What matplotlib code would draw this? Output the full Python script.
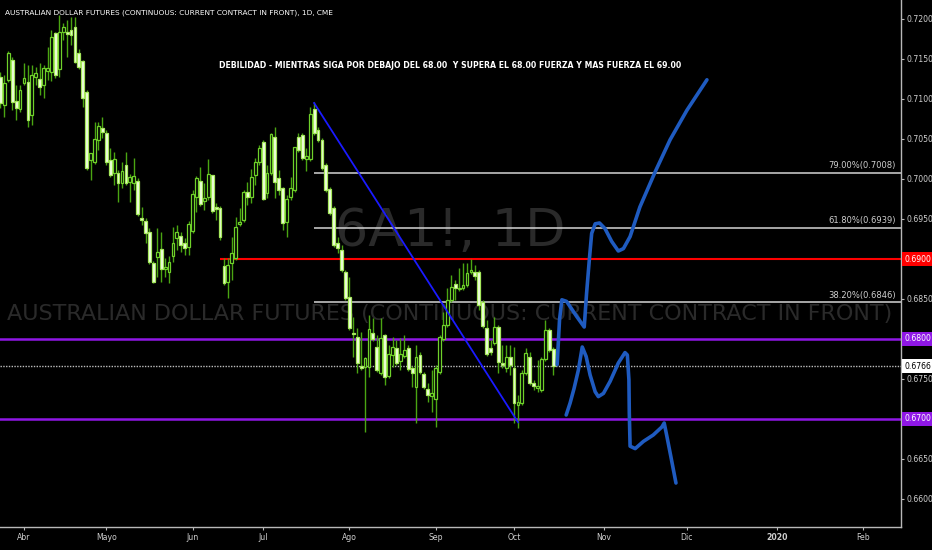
import numpy as np
import matplotlib
matplotlib.use('Agg')
import matplotlib.pyplot as plt
import matplotlib.transforms as mtransforms
from matplotlib import font_manager

# look for a narrow face (TradingView text is condensed), else Roboto
narrow = None
for f in font_manager.fontManager.ttflist:
    if ('Narrow' in f.name or 'Condensed' in f.name or f.stretch in ('condensed', 'semi-condensed')) \
            and f.weight in (400, 'normal', 'regular'):
        narrow = f.name
        break
fam = [narrow, 'Roboto', 'DejaVu Sans'] if narrow else ['Roboto', 'DejaVu Sans']
plt.rcParams['font.family'] = fam

# daily candles, 6A1! (late March .. mid October 2019), bar 0 = 1 Apr
first_bar = -6
opens = [0.7128, 0.7093, 0.7124, 0.7149, 0.7098, 0.7088, 0.7120, 0.7121, 0.7080, 0.7128,
         0.7125, 0.7118, 0.7135, 0.7134, 0.7183, 0.7138, 0.7184, 0.7184, 0.7186, 0.7190,
         0.7158, 0.7148, 0.7109, 0.7024, 0.7021, 0.7049, 0.7064, 0.7058, 0.7024, 0.7008,
         0.7008, 0.6995, 0.7018, 0.6996, 0.6995, 0.6998, 0.6951, 0.6948, 0.6934, 0.6895,
         0.6903, 0.6913, 0.6888, 0.6884, 0.6904, 0.6926, 0.6929, 0.6920, 0.6915, 0.6935,
         0.6978, 0.6998, 0.6973, 0.6978, 0.7005, 0.6965, 0.6964, 0.6891, 0.6871, 0.6895,
         0.6901, 0.6944, 0.6949, 0.6984, 0.6978, 0.7005, 0.7021, 0.7046, 0.6983, 0.7008,
         0.7053, 0.7001, 0.6989, 0.6946, 0.6978, 0.6986, 0.7053, 0.7055, 0.7025, 0.7025,
         0.7088, 0.7061, 0.7049, 0.7018, 0.6988, 0.6964, 0.6920, 0.6911, 0.6884, 0.6853,
         0.6808, 0.6803, 0.6766, 0.6765, 0.6765, 0.6808, 0.6790, 0.6758, 0.6805, 0.6754,
         0.6780, 0.6789, 0.6773, 0.6779, 0.6789, 0.6764, 0.6740, 0.6780, 0.6756, 0.6738,
         0.6729, 0.6725, 0.6759, 0.6800, 0.6818, 0.6849, 0.6869, 0.6863, 0.6864, 0.6868,
         0.6884, 0.6884, 0.6884, 0.6846, 0.6814, 0.6789, 0.6795, 0.6815, 0.6770, 0.6764,
         0.6778, 0.6764, 0.6718, 0.6720, 0.6758, 0.6778, 0.6745, 0.6739, 0.6736, 0.6775,
         0.6811, 0.6788]
highs = [0.7134, 0.7130, 0.7160, 0.7153, 0.7118, 0.7118, 0.7145, 0.7143, 0.7143, 0.7140,
         0.7145, 0.7143, 0.7165, 0.7186, 0.7184, 0.7205, 0.7195, 0.7199, 0.7203, 0.7203,
         0.7163, 0.7149, 0.7111, 0.7033, 0.7071, 0.7071, 0.7078, 0.7061, 0.7039, 0.7034,
         0.7011, 0.7021, 0.7034, 0.7006, 0.7026, 0.7001, 0.6965, 0.6951, 0.6939, 0.6898,
         0.6939, 0.6934, 0.6901, 0.6904, 0.6940, 0.6943, 0.6934, 0.6926, 0.6948, 0.6986,
         0.7004, 0.7015, 0.6995, 0.7025, 0.7005, 0.6970, 0.6966, 0.6901, 0.6901, 0.6928,
         0.6953, 0.6964, 0.6986, 0.6996, 0.7013, 0.7026, 0.7043, 0.7049, 0.7018, 0.7058,
         0.7065, 0.7011, 0.6990, 0.6980, 0.7003, 0.7040, 0.7058, 0.7058, 0.7039, 0.7090,
         0.7096, 0.7065, 0.7051, 0.7020, 0.6990, 0.6966, 0.6928, 0.6918, 0.6886, 0.6878,
         0.6828, 0.6814, 0.6809, 0.6778, 0.6830, 0.6826, 0.6805, 0.6826, 0.6806, 0.6793,
         0.6803, 0.6799, 0.6801, 0.6805, 0.6793, 0.6766, 0.6793, 0.6784, 0.6759, 0.6745,
         0.6761, 0.6768, 0.6805, 0.6834, 0.6864, 0.6880, 0.6874, 0.6889, 0.6895, 0.6895,
         0.6900, 0.6893, 0.6886, 0.6849, 0.6824, 0.6799, 0.6828, 0.6818, 0.6793, 0.6793,
         0.6793, 0.6790, 0.6730, 0.6761, 0.6789, 0.6784, 0.6749, 0.6774, 0.6778, 0.6824,
         0.6814, 0.6790]
lows = [0.7089, 0.7078, 0.7121, 0.7086, 0.7074, 0.7084, 0.7118, 0.7065, 0.7068, 0.7118,
        0.7105, 0.7101, 0.7124, 0.7123, 0.7126, 0.7128, 0.7174, 0.7153, 0.7168, 0.7145,
        0.7138, 0.7090, 0.7011, 0.6999, 0.7019, 0.7036, 0.7051, 0.7018, 0.7003, 0.6993,
        0.6971, 0.6989, 0.6993, 0.6971, 0.6986, 0.6954, 0.6943, 0.6920, 0.6894, 0.6870,
        0.6878, 0.6871, 0.6878, 0.6870, 0.6896, 0.6911, 0.6909, 0.6905, 0.6905, 0.6933,
        0.6959, 0.6966, 0.6961, 0.6974, 0.6958, 0.6949, 0.6924, 0.6868, 0.6851, 0.6874,
        0.6899, 0.6941, 0.6946, 0.6968, 0.6970, 0.6993, 0.7018, 0.6974, 0.6976, 0.7005,
        0.6976, 0.6980, 0.6936, 0.6928, 0.6974, 0.6984, 0.7034, 0.7024, 0.7010, 0.7023,
        0.7055, 0.7046, 0.7011, 0.6984, 0.6955, 0.6915, 0.6908, 0.6884, 0.6849, 0.6811,
        0.6778, 0.6758, 0.6761, 0.6684, 0.6753, 0.6798, 0.6759, 0.6755, 0.6743, 0.6751,
        0.6765, 0.6768, 0.6761, 0.6776, 0.6760, 0.6740, 0.6695, 0.6756, 0.6738, 0.6721,
        0.6709, 0.6690, 0.6756, 0.6798, 0.6815, 0.6846, 0.6849, 0.6860, 0.6861, 0.6865,
        0.6881, 0.6874, 0.6836, 0.6814, 0.6779, 0.6780, 0.6793, 0.6758, 0.6764, 0.6759,
        0.6755, 0.6695, 0.6689, 0.6718, 0.6755, 0.6743, 0.6736, 0.6734, 0.6734, 0.6773,
        0.6784, 0.6755]
closes = [0.7095, 0.7120, 0.7158, 0.7096, 0.7089, 0.7111, 0.7126, 0.7074, 0.7130, 0.7133,
          0.7115, 0.7139, 0.7139, 0.7178, 0.7130, 0.7184, 0.7190, 0.7181, 0.7180, 0.7146,
          0.7140, 0.7101, 0.7014, 0.7033, 0.7050, 0.7066, 0.7059, 0.7021, 0.7005, 0.7025,
          0.6995, 0.7010, 0.6995, 0.7003, 0.7004, 0.6956, 0.6949, 0.6933, 0.6896, 0.6871,
          0.6909, 0.6888, 0.6890, 0.6896, 0.6920, 0.6934, 0.6918, 0.6914, 0.6944, 0.6981,
          0.7001, 0.6969, 0.6976, 0.7006, 0.6960, 0.6963, 0.6928, 0.6870, 0.6893, 0.6908,
          0.6940, 0.6946, 0.6984, 0.6978, 0.7003, 0.7021, 0.7039, 0.6975, 0.7008, 0.7056,
          0.6996, 0.6986, 0.6945, 0.6975, 0.6989, 0.7040, 0.7036, 0.7026, 0.7029, 0.7081,
          0.7058, 0.7049, 0.7014, 0.6986, 0.6958, 0.6918, 0.6914, 0.6886, 0.6851, 0.6814,
          0.6806, 0.6770, 0.6764, 0.6776, 0.6813, 0.6800, 0.6761, 0.6801, 0.6753, 0.6781,
          0.6790, 0.6770, 0.6781, 0.6786, 0.6763, 0.6758, 0.6778, 0.6759, 0.6740, 0.6730,
          0.6733, 0.6764, 0.6803, 0.6818, 0.6849, 0.6865, 0.6864, 0.6864, 0.6868, 0.6883,
          0.6886, 0.6879, 0.6843, 0.6816, 0.6781, 0.6784, 0.6815, 0.6771, 0.6768, 0.6778,
          0.6768, 0.6720, 0.6721, 0.6758, 0.6783, 0.6745, 0.6741, 0.6741, 0.6775, 0.6811,
          0.6786, 0.6766]

month_labels = ['Abr', 'Mayo', 'Jun', 'Jul', 'Ago', 'Sep', 'Oct', 'Nov', 'Dic', '2020', 'Feb']
month_bars = [0, 21, 43, 61, 83, 105, 125, 148, 169, 192, 214]

price_ticks = np.arange(0.6600, 0.72001, 0.005)

# drawings on the chart
fib_levels = [0.7008, 0.6939, 0.6846]
fib_labels = ['79.00%(0.7008)', '61.80%(0.6939)', '38.20%(0.6846)']
fib_start = 74
red_level = 0.6900
red_start = 50
purple_levels = [0.6800, 0.6700]
last_price = 0.6766

trend_bars = [74, 126]
trend_prices = [0.7095, 0.6696]

up_path_bars = [136.0, 136.6, 137.2, 138.4, 141.0, 142.9, 143.5, 144.2, 144.8, 145.7, 146.8,
                148.2, 149.9, 151.6, 152.9, 154.6, 157.1, 161.0, 164.8, 169.1, 174.2]
up_path_prices = [0.6768, 0.6824, 0.6849, 0.6847, 0.6828, 0.6815, 0.6857, 0.6899, 0.6932, 0.6944,
                  0.6945, 0.6938, 0.6922, 0.6910, 0.6913, 0.6928, 0.6965, 0.7009, 0.7049, 0.7086, 0.7124]
down_path_bars = [138.3, 139.3, 140.3, 141.4, 142.4, 143.4, 144.4, 145.7, 146.5, 147.8, 149.5,
                  151.6, 153.3, 153.9, 154.3, 154.4, 154.6, 155.9, 158.0, 160.5, 162.7, 163.3,
                  164.0, 165.0, 166.3]
down_path_prices = [0.6705, 0.6720, 0.6738, 0.6761, 0.6790, 0.6778, 0.6755, 0.6734, 0.6728, 0.6732,
                    0.6747, 0.6770, 0.6783, 0.6780, 0.6749, 0.6707, 0.6666, 0.6663, 0.6672, 0.6680,
                    0.6690, 0.6695, 0.6678, 0.6653, 0.6620]

title = 'AUSTRALIAN DOLLAR FUTURES (CONTINUOUS: CURRENT CONTRACT IN FRONT), 1D, CME'
note = 'DEBILIDAD - MIENTRAS SIGA POR DEBAJO DEL 68.00  Y SUPERA EL 68.00 FUERZA Y MAS FUERZA EL 69.00'

W, H = 932, 550
fig = plt.figure(figsize=(W / 100, H / 100), dpi=100, facecolor='black')
ax = fig.add_axes([0, 23 / H, 900.6 / W, 527 / H])
ax.set_facecolor('black')

o = np.array(opens)
hi = np.array(highs)
lo = np.array(lows)
c = np.array(closes)
x = np.arange(len(o)) + first_bar
up = c >= o


def fit_text(t, width_px):
    # scale a text so its rendered width matches the reference
    fig.canvas.draw()
    w = t.get_window_extent().width
    t.set_fontsize(t.get_fontsize() * width_px / w)


# watermarks
wm1 = ax.text(0.4997, 0.56, '6A1!, 1D', transform=ax.transAxes, ha='center', va='center',
              color='#2a2a2a', fontsize=40, zorder=0.5)
wm2 = ax.text(0.4997, 0.405, 'AUSTRALIAN DOLLAR FUTURES (CONTINUOUS: CURRENT CONTRACT IN FRONT)',
              transform=ax.transAxes, ha='center', va='center', color='#2a2a2a', fontsize=26, zorder=0.5)

# levels
xmin, xmax = -6.12, 223.6
for lvl, lab in zip(fib_levels, fib_labels):
    ax.hlines(lvl, fib_start, xmax, color='#d4d4d4', lw=1.1, zorder=2)
    ax.text(xmax - 1.2, lvl + 0.0003, lab, ha='right', va='bottom', color='#cfcfcf',
            fontsize=6, zorder=6)
ax.hlines(red_level, red_start, xmax, color='#ff0000', lw=1.5, zorder=2)
for lvl in purple_levels:
    ax.axhline(lvl, color='#8f17e6', lw=1.8, zorder=2)
ax.axhline(last_price, color='#bdbdbd', lw=1, ls=(0, (1, 1)), zorder=2)

# candles
ax.vlines(x, lo, hi, color='#4aa512', lw=1, zorder=3)
body_lo = np.minimum(o, c)
body_h = np.maximum(np.abs(c - o), 0.00006)
ax.bar(x[up], body_h[up], bottom=body_lo[up], width=0.72, color='black',
       edgecolor='#6fd12a', linewidth=0.9, zorder=4)
ax.bar(x[~up], body_h[~up], bottom=body_lo[~up], width=0.72, color='#f2ffe6',
       edgecolor='#a6e85c', linewidth=0.9, zorder=4)

# hand drawings
ax.plot(trend_bars, trend_prices, color='#1a1aff', lw=1.3, zorder=5)
ax.plot(up_path_bars, up_path_prices, color='#1f5bc0', lw=2.6, zorder=5,
        solid_capstyle='round', solid_joinstyle='round')
ax.plot(down_path_bars, down_path_prices, color='#1f5bc0', lw=2.6, zorder=5,
        solid_capstyle='round', solid_joinstyle='round')

ax.set_xlim(xmin, xmax)
ax.set_ylim(0.6565, 0.722375)

# axes styling
for s in ['top', 'left']:
    ax.spines[s].set_visible(False)
for s in ['right', 'bottom']:
    ax.spines[s].set_color('#b8b8b8')
    ax.spines[s].set_linewidth(1)
ax.yaxis.tick_right()
ax.set_yticks(price_ticks, ['%.4f' % v for v in price_ticks])
ax.set_xticks(month_bars, month_labels)
ax.tick_params(axis='both', colors='#b8b8b8', labelcolor='#cfcfcf', labelsize=5.6,
               length=2.5, width=0.8, direction='out', pad=1.5)
for lab in ax.get_xticklabels():
    if lab.get_text() == '2020':
        lab.set_fontweight('bold')

# price labels on the axis
blend = mtransforms.blended_transform_factory(ax.transAxes, ax.transData)
for lvl, fc, tc in [(red_level, '#ff0000', 'white'), (purple_levels[0], '#8f17e6', 'white'),
                    (purple_levels[1], '#8f17e6', 'white'), (last_price, 'white', 'black')]:
    ax.text(1.0045, lvl, '%.4f' % lvl, transform=blend, ha='left', va='center', color=tc,
            fontsize=5.6, zorder=10, clip_on=False,
            bbox=dict(boxstyle='square,pad=0.3', fc=fc, ec='none'))

t_title = fig.text(5 / W, 1 - 13 / H, title, color='white', fontsize=7.6, ha='left', va='center')
t_note = fig.text(450 / W, 1 - 66 / H, note, color='white', fontsize=7.6, ha='center', va='center',
                  fontweight='bold')

fit_text(wm1, 230)
fit_text(wm2, 885)
fit_text(t_title, 325)
fit_text(t_note, 462)

fig.savefig('out.png', dpi=100, facecolor='black')
